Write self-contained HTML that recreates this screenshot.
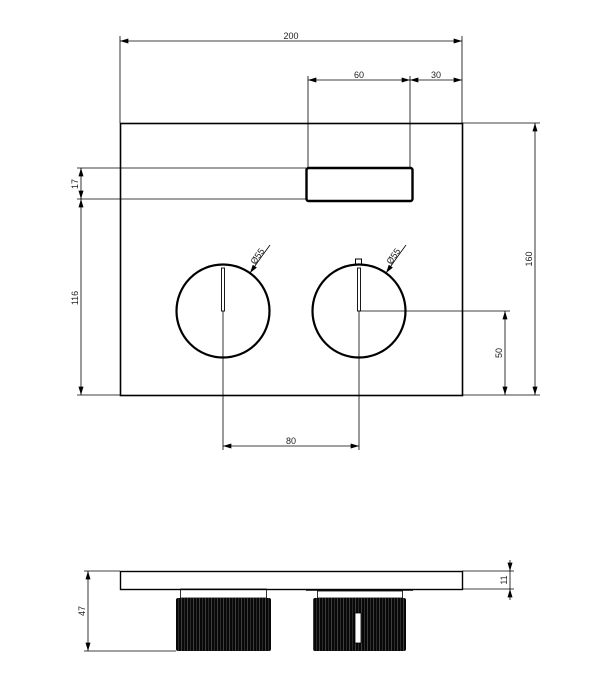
<!DOCTYPE html>
<html><head><meta charset="utf-8"><style>html,body{margin:0;padding:0;background:#fff}svg{display:block}</style></head>
<body>
<svg width="601" height="687" viewBox="0 0 601 687" xmlns="http://www.w3.org/2000/svg" font-family="Liberation Sans, sans-serif" font-size="9" fill="none">
<defs>
<marker id="a" viewBox="0 0 10 6" refX="10" refY="3" markerWidth="9" markerHeight="5" orient="auto-start-reverse" markerUnits="userSpaceOnUse"><path d="M0,0L10,3L0,6z" fill="#000"/></marker>
<pattern id="k" width="6" height="10" patternUnits="userSpaceOnUse"><rect width="6" height="10" fill="#080808"/><rect x="1" width="0.7" height="10" fill="#555"/><rect x="4" width="0.7" height="10" fill="#3a3a3a"/></pattern>
</defs>
<g stroke="#000" stroke-width="0.8">
<rect x="120.5" y="123.5" width="342" height="272" stroke-width="1.6"/>
<rect x="306.5" y="168" width="106" height="33" rx="2" stroke-width="2.4"/>
<line x1="120" y1="36" x2="120" y2="123"/>
<line x1="462" y1="36" x2="462" y2="123"/>
<line x1="308" y1="76" x2="308" y2="168"/>
<line x1="410" y1="76" x2="410" y2="168"/>
<line x1="77" y1="168" x2="306" y2="168"/>
<line x1="77" y1="199" x2="306" y2="199"/>
<line x1="77" y1="395" x2="120" y2="395"/>
<line x1="462" y1="123" x2="540" y2="123"/>
<line x1="462" y1="395" x2="540" y2="395"/>
<line x1="359" y1="311" x2="510" y2="311"/>
<line x1="223" y1="311" x2="223" y2="450"/>
<line x1="359" y1="311" x2="359" y2="450"/>
<line x1="120" y1="41" x2="462" y2="41" marker-start="url(#a)" marker-end="url(#a)"/>
<line x1="308" y1="80" x2="410" y2="80" marker-start="url(#a)" marker-end="url(#a)"/>
<line x1="410" y1="80" x2="462" y2="80" marker-start="url(#a)" marker-end="url(#a)"/>
<line x1="81" y1="168" x2="81" y2="199" marker-start="url(#a)" marker-end="url(#a)"/>
<line x1="81" y1="199" x2="81" y2="395" marker-start="url(#a)" marker-end="url(#a)"/>
<line x1="535" y1="123" x2="535" y2="395" marker-start="url(#a)" marker-end="url(#a)"/>
<line x1="505" y1="311" x2="505" y2="395" marker-start="url(#a)" marker-end="url(#a)"/>
<line x1="223" y1="446" x2="359" y2="446" marker-start="url(#a)" marker-end="url(#a)"/>
<circle cx="223" cy="311" r="46.5" stroke-width="2.2"/>
<circle cx="359" cy="311" r="46.5" stroke-width="2.2"/>
<rect x="221.5" y="268" width="3" height="43" stroke-width="0.9"/>
<rect x="357.5" y="268" width="3" height="43" stroke-width="0.9"/>
<rect x="355.5" y="259" width="6" height="5" stroke-width="1"/>
<line x1="250" y1="273" x2="262" y2="256" marker-start="url(#a)"/>
<line x1="262" y1="256" x2="270" y2="245"/>
<line x1="386" y1="273" x2="398" y2="256" marker-start="url(#a)"/>
<line x1="398" y1="256" x2="406" y2="245"/>
<rect x="120.5" y="571.5" width="342" height="18" stroke-width="1.4"/>
<line x1="462" y1="571" x2="514" y2="571"/>
<line x1="462" y1="589" x2="514" y2="589"/>
<line x1="510" y1="560" x2="510" y2="571" marker-end="url(#a)"/>
<line x1="510" y1="600" x2="510" y2="589" marker-end="url(#a)"/>
<line x1="510" y1="571" x2="510" y2="589"/>
<line x1="84" y1="571" x2="120" y2="571"/>
<line x1="84" y1="651" x2="176" y2="651"/>
<line x1="88" y1="571" x2="88" y2="651" marker-start="url(#a)" marker-end="url(#a)"/>
<rect x="180.5" y="589" width="86" height="9"/>
<rect x="317.5" y="591" width="85" height="7"/>
<line x1="306" y1="590" x2="413" y2="590" stroke-width="1.5"/>
</g>
<rect x="176" y="598" width="95" height="53" rx="2" fill="url(#k)"/>
<rect x="313" y="598" width="93" height="53" rx="2" fill="url(#k)"/>
<rect x="355" y="613" width="6" height="30" fill="#fff" stroke="#000" stroke-width="0.8"/>
<g fill="#222">
<text x="291" y="39" text-anchor="middle">200</text>
<text x="359" y="78" text-anchor="middle">60</text>
<text x="436" y="78" text-anchor="middle">30</text>
<text x="291" y="444" text-anchor="middle">80</text>
<text transform="translate(78,184) rotate(-90)" text-anchor="middle">17</text>
<text transform="translate(78,298) rotate(-90)" text-anchor="middle">116</text>
<text transform="translate(532,259) rotate(-90)" text-anchor="middle">160</text>
<text transform="translate(502,353) rotate(-90)" text-anchor="middle">50</text>
<text transform="translate(85,611) rotate(-90)" text-anchor="middle">47</text>
<text transform="translate(507,580) rotate(-90)" text-anchor="middle">11</text>
<text transform="translate(255,265) rotate(-55)">Ø55</text>
<text transform="translate(391,265) rotate(-55)">Ø55</text>
</g>
</svg>
</body></html>
